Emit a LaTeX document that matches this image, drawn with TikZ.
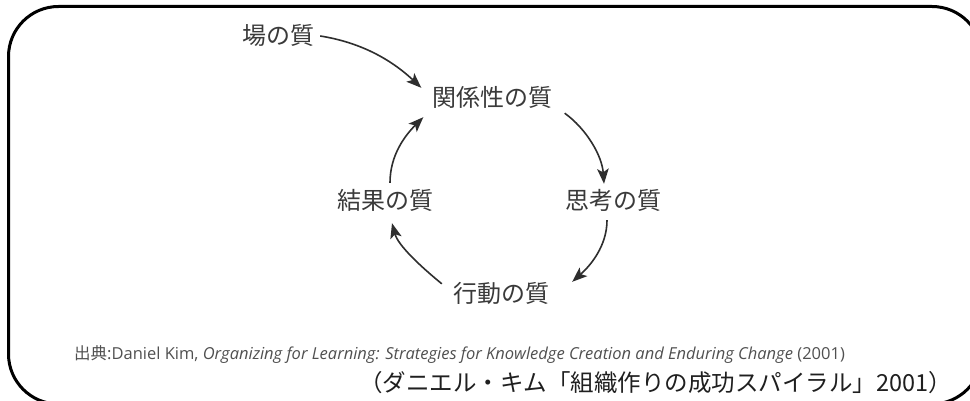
\documentclass[tikz,border=0pt]{standalone}
\usepackage{fontspec}
\setmainfont{Open Sans}
\newfontfamily\jp{Noto Sans CJK JP}
\usetikzlibrary{arrows.meta,calc}
\definecolor{txt}{HTML}{3A3A3A}
\definecolor{src}{HTML}{505050}
\begin{document}
\begin{tikzpicture}[x=1pt,y=-1pt,
  qual/.style={inner sep=0pt, text=txt, font=\jp\fontsize{24}{24}\selectfont, text height=20pt, text depth=4pt},
  arr/.style={draw=black!82, line width=1.6pt, -{Stealth[length=15pt,width=11.5pt,inset=3.5pt]}},
  frame/.style={draw=black, line width=3pt, rounded corners=50pt}]
\useasboundingbox (0,0) rectangle (970,401);
\clip (0,0) rectangle (970,401);
\fill[white] (0,0) rectangle (970,401);
\draw[frame] (8.5,6.5) rectangle (982,404);

\node[qual] (ba)  at (278,37) {場の質};
\node[qual] (kan) at (492.5,99) {関係性の質};
\node[qual] (shi) at (613,202) {思考の質};
\node[qual] (kou) at (501,294) {行動の質};
\node[qual] (ket) at (385,202) {結果の質};

\draw[arr] ($(ba.east)+(6,-1)$) .. controls +(38,6) and +(-32,-30) .. ($(kan.north west)+(-11,1)$);
\draw[arr] ($(kan.south east)+(12,2)$) .. controls +(22,16) and +(-2,-28) .. ($(shi.north)+(-9,-6)$);
\draw[arr] ($(shi.south)+(-6,6)$) .. controls +(0,26) and +(18,-16) .. ($(kou.north east)+(23,0)$);
\draw[arr] ($(kou.north west)+(-11,2)$) .. controls +(-22,-18) and +(6,22) .. ($(ket.south)+(7,9)$);
\draw[arr] ($(ket.north)+(5,-7)$) .. controls +(0,-28) and +(-18,18) .. ($(kan.south west)+(-9,6)$);

\node[anchor=base west, inner sep=0pt, text=src, font=\fontsize{16.5}{16.5}\selectfont] (srcline) at (74,359)
  {{\jp 出典}:Daniel Kim, \textit{Organizing for Learning: Strategies for Knowledge Creation and Enduring Change} (2001)};
\node[anchor=base west, inner sep=0pt, text=black!88, font=\jp\fontsize{23.5}{23.5}\selectfont] (jaref) at (359,391)
  {（ダニエル・キム「組織作りの成功スパイラル」2001）};
\end{tikzpicture}
\end{document}
